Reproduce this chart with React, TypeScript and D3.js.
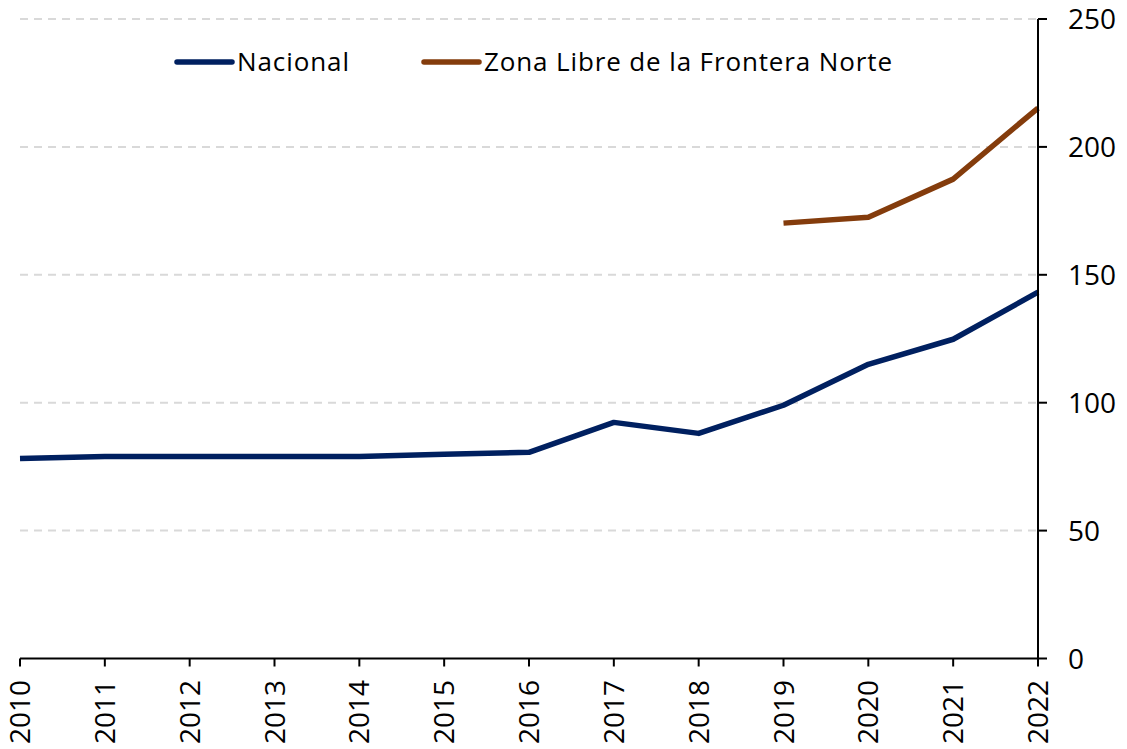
import React from "react";
import * as d3 from "d3";

const years = [2010, 2011, 2012, 2013, 2014, 2015, 2016, 2017, 2018, 2019, 2020, 2021, 2022];
const nacional = [78.2, 79.0, 79.0, 79.0, 79.0, 79.8, 80.6, 92.3, 88.0, 99.0, 115.0, 124.8, 143.2];
const zonaYears = [2019, 2020, 2021, 2022];
const zonaLibre = [170.2, 172.5, 187.4, 215.2];
const yTicks = [0, 50, 100, 150, 200, 250];
const seriesNames = ["Nacional", "Zona Libre de la Frontera Norte"];
const seriesColors = ["#002060", "#843C0C"];

const W = 1127;
const H = 749;
const FONT = "'Open Sans', 'Liberation Sans', sans-serif";

export default function App() {
  const x = d3.scaleLinear().domain([2010, 2022]).range([20, 1038]);
  const y = d3.scaleLinear().domain([0, 250]).range([658.5, 19]);
  const line = d3
    .line<[number, number]>()
    .x((d) => x(d[0]))
    .y((d) => y(d[1]));
  const natPts: [number, number][] = years.map((yr, i) => [yr, nacional[i]]);
  const zonaPts: [number, number][] = zonaYears.map((yr, i) => [yr, zonaLibre[i]]);
  const legendX = [177, 424];
  const legendTextW = [112, 408];

  return (
    <svg width={W} height={H} style={{ position: "absolute", left: 0, top: 0, background: "#fff" }}>
      {yTicks
        .filter((t) => t > 0)
        .map((t) => (
          <line key={"g" + t} x1={x(2010)} x2={x(2022)} y1={y(t)} y2={y(t)} stroke="#D9D9D9" strokeWidth={2} strokeDasharray="8,6" />
        ))}
      <path d={line(natPts) || ""} fill="none" stroke={seriesColors[0]} strokeWidth={5.5} strokeLinejoin="round" />
      <path d={line(zonaPts) || ""} fill="none" stroke={seriesColors[1]} strokeWidth={5.5} strokeLinejoin="round" />
      {/* x axis */}
      <line x1={x(2010)} x2={x(2022)} y1={y(0)} y2={y(0)} stroke="#000" strokeWidth={2} />
      {years.map((yr) => (
        <g key={"x" + yr}>
          <line x1={x(yr)} x2={x(yr)} y1={y(0)} y2={y(0) + 8} stroke="#000" strokeWidth={2} />
          <text
            transform={`translate(${x(yr) + 10},${680}) rotate(-90)`}
            textAnchor="end"
            fontFamily={FONT}
            fontSize={28}
            fill="#000"
          >
            {yr}
          </text>
        </g>
      ))}
      {/* y axis */}
      <line x1={x(2022)} x2={x(2022)} y1={y(0)} y2={y(250)} stroke="#000" strokeWidth={2} />
      {yTicks.map((t) => (
        <g key={"y" + t}>
          <line x1={x(2022)} x2={x(2022) + 9} y1={y(t)} y2={y(t)} stroke="#000" strokeWidth={2} />
          <text x={1068} y={y(t) + 10} fontFamily={FONT} fontSize={28} fill="#000">
            {t}
          </text>
        </g>
      ))}
      {/* legend */}
      {seriesNames.map((name, i) => (
        <g key={name}>
          <line x1={legendX[i]} x2={legendX[i] + 55} y1={62} y2={62} stroke={seriesColors[i]} strokeWidth={5.5} strokeLinecap="round" />
          <text x={legendX[i] + 60} y={71} fontFamily={FONT} fontSize={26} fill="#000" textLength={legendTextW[i]} lengthAdjust="spacing">
            {name}
          </text>
        </g>
      ))}
    </svg>
  );
}
